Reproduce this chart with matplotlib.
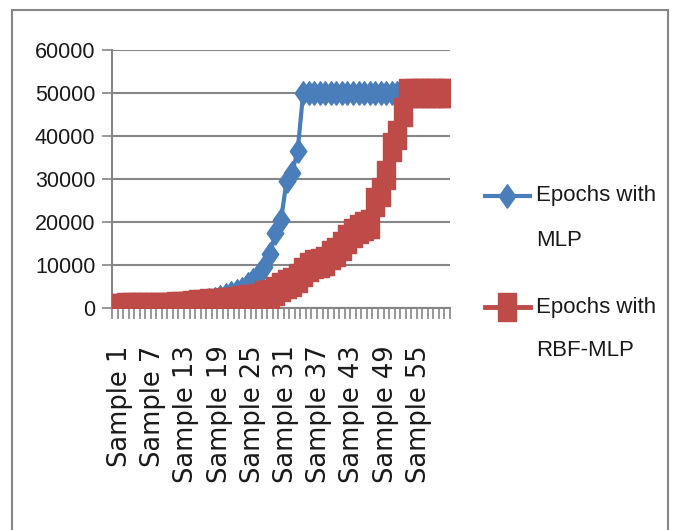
import matplotlib
matplotlib.use("Agg")
import matplotlib.pyplot as plt
from matplotlib.lines import Line2D
from matplotlib.patches import Rectangle
from matplotlib.transforms import ScaledTranslation
import numpy as np

# ---------------- data ----------------
samples = [f"Sample {i}" for i in range(1, 62)]
epochs_mlp = [100, 100, 100, 100, 100, 100, 100, 100, 100, 100,
              300, 500, 700, 900, 1100, 1300, 1600, 1900, 2200, 2600,
              3000, 3400, 3900, 4500, 5500, 6500, 8000, 9500, 12500, 17500,
              20500, 29500, 31500, 36500, 50000, 50000, 50000, 50000, 50000, 50000,
              50000, 50000, 50000, 50000, 50000, 50000, 50000, 50000, 50000, 50000,
              50000, 50000, 50000, 50000, 50000, 50000, 50000, 50000, 50000, 50000,
              50000]
epochs_rbf = [100, 100, 150, 150, 200, 200, 200, 250, 250, 300, 300, 350,
              450, 550, 700, 900, 1000, 1100, 1150, 1200,
              1300, 1500, 1600, 1800, 2000, 2200, 2400, 3000,
              3300, 4000, 5000, 5600, 6000, 7000, 8400, 9500,
              10200, 10500, 11000, 12300, 13000, 14400, 16000, 17500,
              18400, 19100, 19500, 24600, 27000, 31000, 37400, 40200,
              45600, 50000, 50000, 50000, 50000, 50000, 50000, 50000, 50000]
series_names = ["Epochs with\nMLP", "Epochs with\nRBF-MLP"]
labeled_samples = [1, 7, 13, 19, 25, 31, 37, 43, 49, 55]
y_ticks = [0, 10000, 20000, 30000, 40000, 50000, 60000]

BLUE = "#4A7EBB"
RED = "#BE4B48"
GRAY = "#868686"
TXT = "#1a1a1a"

W, H = 673, 530
fig = plt.figure(figsize=(W / 100, H / 100), dpi=100)

def fx(x):
    return x / W

def fy(y):
    return 1 - y / H

narrow = ["Liberation Sans", "DejaVu Sans"]

ax = fig.add_axes([fx(112), fy(308), fx(450) - fx(112), fy(50) - fy(308)])

# markers (taller than wide, as in the reference)
sq = [(-0.32, -0.5), (0.32, -0.5), (0.32, 0.5), (-0.32, 0.5), (-0.32, -0.5)]
dm = [(0, -0.5), (0.35, 0), (0, 0.5), (-0.35, 0), (0, -0.5)]

x = np.arange(1, len(samples) + 1)
ax.plot(x, epochs_mlp, color=BLUE, lw=3.0, marker=dm, markersize=17,
        markerfacecolor=BLUE, markeredgecolor=BLUE, zorder=3)
ax.plot(x, epochs_rbf, color=RED, lw=3.5, marker=sq, markersize=20,
        markerfacecolor=RED, markeredgecolor=RED, zorder=4)

ax.set_xlim(0.5, len(samples) + 0.5)
ax.set_ylim(0, 60000)
ax.set_yticks(y_ticks)
ax.set_yticklabels([str(v) for v in y_ticks])
ax.yaxis.grid(True, color=GRAY, lw=1.5)
ax.set_axisbelow(True)

ax.set_xticks(labeled_samples)
ax.set_xticklabels([samples[i - 1] for i in labeled_samples],
                   rotation=90, va="top", ha="center")
ax.set_xticks(np.arange(0.5, len(samples) + 1, 1), minor=True)
ax.tick_params(axis="x", which="major", length=0, pad=27)
ax.tick_params(axis="x", which="minor", length=8, color=GRAY, width=1.2)
ax.tick_params(axis="y", length=7, color=GRAY, width=1.2, pad=5)

shift = ScaledTranslation(5 / 100, 0, fig.dpi_scale_trans)
for lab in ax.get_xticklabels():
    lab.set_fontfamily("DejaVu Sans")
    lab.set_fontsize(18.5)
    lab.set_color(TXT)
    lab.set_transform(lab.get_transform() + shift)
for lab in ax.get_yticklabels():
    lab.set_fontfamily(narrow)
    lab.set_fontsize(15.5)
    lab.set_color(TXT)

for s in ["top", "right"]:
    ax.spines[s].set_visible(False)
for s in ["left", "bottom"]:
    ax.spines[s].set_color(GRAY)
    ax.spines[s].set_linewidth(1.5)
ax.patch.set_alpha(0)

# legend (drawn manually to match Excel layout)
leg = [(196, 240, BLUE, dm, 17, 3.0, series_names[0]),
       (307, 350, RED, sq, 20, 3.5, series_names[1])]
for y1, y2, c, m, ms, lw, name in leg:
    fig.add_artist(Line2D([fx(485), fx(530)], [fy(y1), fy(y1)], color=c, lw=lw,
                          transform=fig.transFigure))
    fig.add_artist(Line2D([fx(507)], [fy(y1)], marker=m, markersize=ms, color=c,
                          markerfacecolor=c, markeredgecolor=c, lw=0,
                          transform=fig.transFigure))
    l1, l2 = name.split("\n")
    fig.text(fx(536), fy(y1), l1, va="center", ha="left", fontsize=16,
             family=narrow, color=TXT)
    fig.text(fx(536), fy(y2), l2, va="center", ha="left", fontsize=16,
             family=narrow, color=TXT)

# outer chart border
fig.add_artist(Rectangle((fx(12), -0.05), fx(668) - fx(12), fy(10) + 0.05,
                         transform=fig.transFigure, fill=False,
                         edgecolor=GRAY, lw=1.5))

fig.savefig("out.png", dpi=100)
